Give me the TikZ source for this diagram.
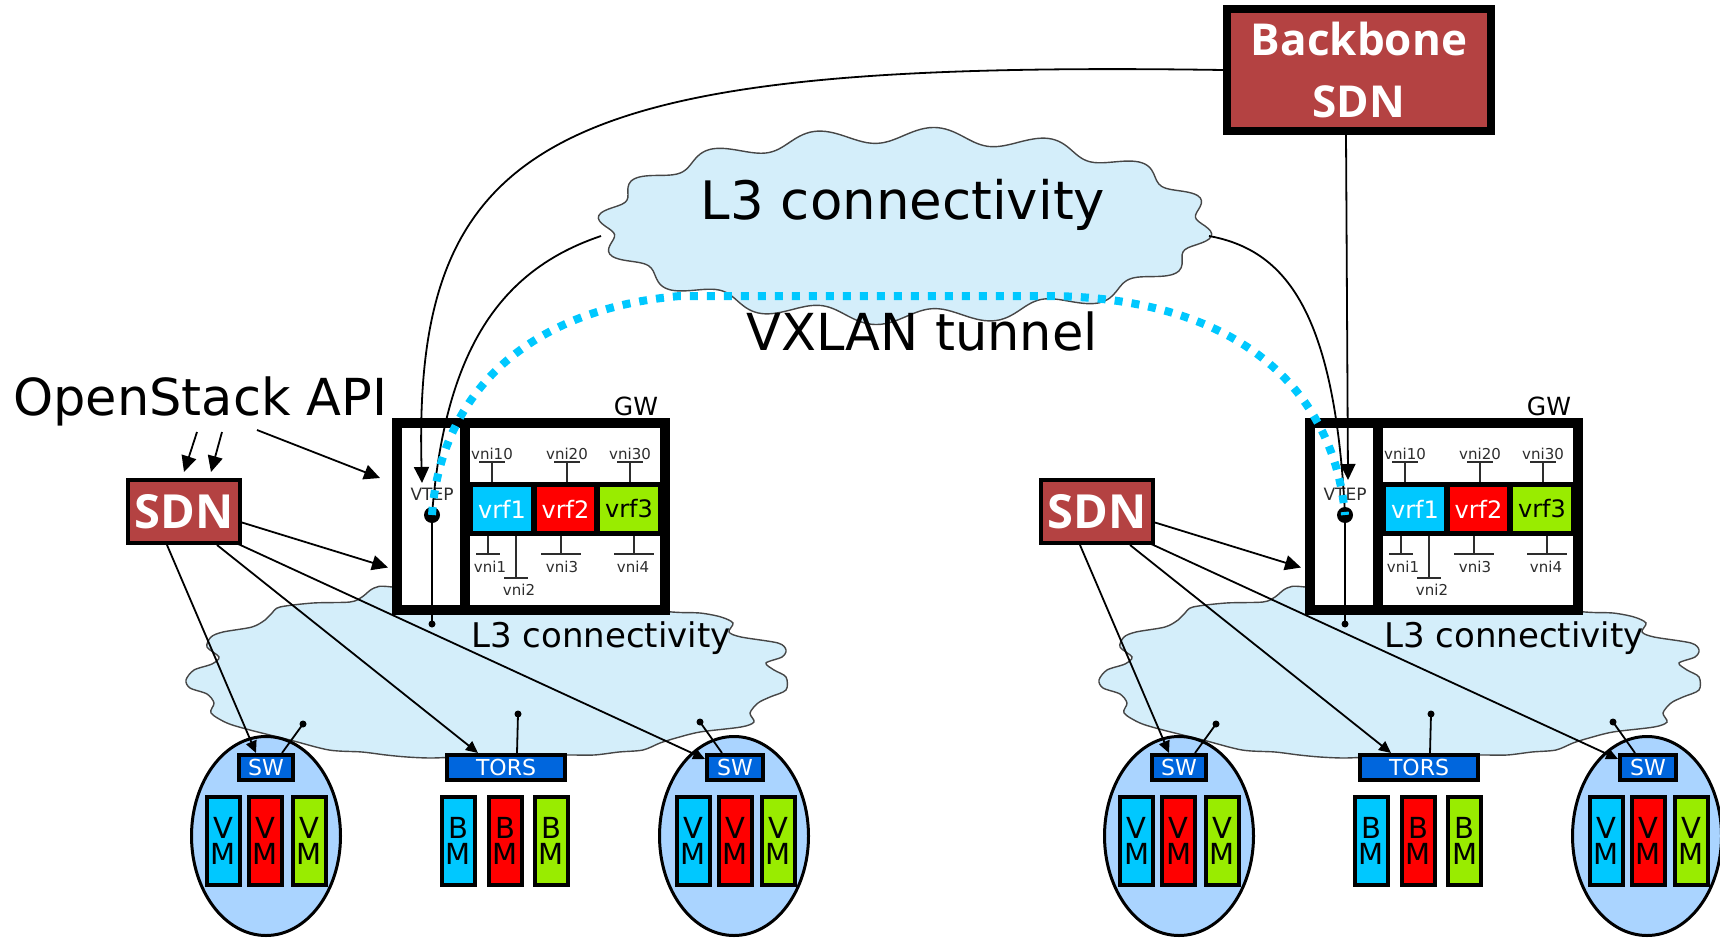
\documentclass[tikz,border=0pt]{standalone}
\usepackage{fontspec}
\setmainfont{DejaVu Sans}
\newfontfamily\headfont{Open Sans}
\usetikzlibrary{arrows.meta,shapes.geometric}

\definecolor{cloudfill}{RGB}{212,238,250}
\definecolor{cloudedge}{RGB}{70,70,70}
\definecolor{sdnred}{RGB}{180,66,66}
\definecolor{netcyan}{RGB}{0,200,255}
\definecolor{netred}{RGB}{255,0,0}
\definecolor{netgreen}{RGB}{153,236,0}
\definecolor{switchblue}{RGB}{0,102,221}
\definecolor{hostfill}{RGB}{170,212,255}
\definecolor{labelgray}{RGB}{45,45,45}

\newcommand{\setfs}[2]{\fontsize{#1}{#2}\selectfont}

\begin{document}
\begin{tikzpicture}[x=1pt,y=-1pt,
  wire/.style={line width=1.8pt},
  bigtip/.style={wire,-{Triangle[length=16pt,width=15pt]}},
  smalltip/.style={wire,-{Triangle[length=12pt,width=11pt]}},
  cloudshape/.style={fill=cloudfill,draw=cloudedge,line width=1.4pt},
  ctrlbox/.style={draw=black,line width=4pt,fill=sdnred,text=white,inner sep=0pt,
    font={\headfont\bfseries\setfs{47}{56}}},
  gwframe/.style={draw=black,line width=10pt,fill=white,inner sep=0pt,
    minimum width=268pt,minimum height=187pt},
  vrfbox/.style={inner sep=0pt,minimum width=58pt,minimum height=44pt,
    font=\setfs{24}{28}},
  vnilab/.style={inner sep=0pt,text=labelgray,font=\setfs{15}{17}},
  stub/.style={line width=1.6pt,draw=labelgray},
  hostshape/.style={ellipse,draw=black,line width=3pt,fill=hostfill,inner sep=0pt,
    minimum width=149pt,minimum height=199pt},
  swbox/.style={draw=black,line width=4pt,fill=switchblue,text=white,inner sep=0pt,
    minimum height=25pt,font=\setfs{22}{26}},
  guest/.style={draw=black,line width=4pt,inner sep=0pt,minimum width=33pt,
    minimum height=88pt,align=center,font=\setfs{29}{26}},
  bigdot/.style={circle,fill=black,inner sep=0pt,minimum size=16pt},
  linkdot/.style={circle,fill=black,inner sep=0pt,minimum size=7pt},
]
\useasboundingbox (0,0) rectangle (1720,939);

% backbone L3 cloud
\filldraw[cloudshape] plot[domain=0:358.5,samples=240,smooth cycle,variable=\t]
  ({905+(300+8*sin(16*\t))*cos(\t)},{226+(91+8*sin(16*\t))*sin(\t)});
\coordinate (cloudW) at (601,236);
\coordinate (cloudE) at (1209,236);

% backbone controller
\node[ctrlbox,line width=8pt,minimum width=264pt,minimum height=122pt,align=center,
  font={\headfont\bfseries\setfs{44}{62}}] (bb) at (1359,70) {Backbone\\SDN};

% two identical data-centre sites
\foreach \dx/\sd in {0/L,913/R}{
\begin{scope}[shift={(\dx,0)}]
  % site L3 fabric
  \filldraw[cloudshape] plot[smooth cycle] coordinates {
    (480,600) (392,587) (374,588) (362,597) (350,602) (313,603) (280,607)
    (272,613) (265,620) (252,627) (223,632) (211,637) (207,647) (219,657)
    (212,664) (194,670) (186,680) (190,688) (207,694) (214,703) (211,713)
    (227,723) (250,730) (290,740) (329,750) (362,752) (386,755) (407,757)
    (431,758) (460,757) (520,756) (566,755) (594,755) (619,752) (643,750)
    (660,743) (676,738) (700,732) (741,727) (754,722) (750,713) (758,703)
    (770,697) (786,690) (786,677) (774,670) (766,663) (782,657) (786,650)
    (778,643) (741,637) (729,632) (733,623) (721,617) (700,613) (672,612)
    (600,605)};
  \node[anchor=base,inner sep=0pt,font=\setfs{34}{40}] (l3\sd) at (601,647) {L3 connectivity};

  % compute hosts and bare-metal rack
  \node[hostshape] (hostA\sd) at (266,836) {};
  \node[hostshape] (hostB\sd) at (734,836) {};
  \node[swbox,minimum width=54pt] (swA\sd) at (266,767.5) {SW};
  \node[swbox,minimum width=56pt] (swB\sd) at (735,767.5) {SW};
  \node[swbox,minimum width=118pt] (tors\sd) at (506,767.5) {TORS};

  \node[guest,fill=netcyan] (vmA1\sd) at (223.5,841) {V\\M};
  \node[guest,fill=netred] (vmA2\sd) at (265.5,841) {V\\M};
  \node[guest,fill=netgreen] (vmA3\sd) at (309,841) {V\\M};
  \node[guest,fill=netcyan] (vmB1\sd) at (693,841) {V\\M};
  \node[guest,fill=netred] (vmB2\sd) at (735,841) {V\\M};
  \node[guest,fill=netgreen] (vmB3\sd) at (778,841) {V\\M};
  \node[guest,fill=netcyan] (bm1\sd) at (458,841) {B\\M};
  \node[guest,fill=netred] (bm2\sd) at (505,841) {B\\M};
  \node[guest,fill=netgreen] (bm3\sd) at (551.5,841) {B\\M};

  % uplinks into the fabric
  \node[linkdot] (antA\sd) at (303,724) {};
  \node[linkdot] (antT\sd) at (518,714) {};
  \node[linkdot] (antB\sd) at (700,722) {};
  \draw[wire] ([xshift=16pt]swA\sd.north) -- (antA\sd.center);
  \draw[wire] ([xshift=11pt]tors\sd.north) -- (antT\sd.center);
  \draw[wire] ([xshift=-13pt]swB\sd.north) -- (antB\sd.center);

  % gateway
  \node[gwframe] (gw\sd) at (531,516.5) {};
  \draw[line width=10pt] (465,423) -- (465,610);
  \fill (470,482) rectangle (660,536);
  \node[vrfbox,fill=netcyan,text=white] (vrfa\sd) at (502,509) {vrf1};
  \node[vrfbox,fill=netred,text=white,minimum width=57pt] (vrfb\sd) at (565.5,509) {vrf2};
  \node[vrfbox,fill=netgreen,text=black] (vrfc\sd) at (629,509) {vrf3};
  \node[anchor=base,inner sep=0pt,font=\setfs{25}{30}] (gwname\sd) at (636,415) {GW};

  \foreach \vx/\vt in {492/vni10,567/vni20,630/vni30}{
    \node[vnilab] (\vt\sd) at (\vx,454) {\vt};
    \draw[stub] (\vx,482) -- (\vx,462) (\vx-13,462) -- (\vx+13,462);
  }
  \foreach \vx/\by/\bw/\lx/\ly/\vt in
    {488/554/12/490/567/vni1, 516/578/12/519/590/vni2,
     561/554/20/562/567/vni3, 634/554/20/633/567/vni4}{
    \draw[stub] (\vx,536) -- (\vx,\by) (\vx-\bw,\by) -- (\vx+\bw,\by);
    \node[vnilab] (\vt\sd) at (\lx,\ly) {\vt};
  }

  % VTEP
  \node[anchor=base,inner sep=0pt,text=labelgray,font=\setfs{17}{20}] (veplab\sd) at (432,500) {VTEP};
  \node[linkdot] (uplink\sd) at (432,624) {};
  \node[bigdot] (vtep\sd) at (432,515) {};
  \draw[wire] (vtep\sd.center) -- (uplink\sd.center);

  % site controller
  \node[ctrlbox,minimum width=112pt,minimum height=63pt] (sdn\sd) at (184,511.5) {SDN};
  \draw[smalltip] ([xshift=-17pt]sdn\sd.south) -- ([xshift=-10pt]swA\sd.north);
  \draw[smalltip] ([xshift=33pt]sdn\sd.south) -- ([xshift=-28pt]tors\sd.north);
  \draw[smalltip] ([xshift=-6pt,yshift=2pt]sdn\sd.south east) -- ([yshift=-6pt]swB\sd.north west);
  \draw[bigtip] ([yshift=-11pt]sdn\sd.east) -- ([xshift=-4pt,yshift=-51pt]gw\sd.west);
\end{scope}
}

% backbone control and links
\draw[bigtip] (bb.west) .. controls (560,60) and (412,130) .. ([xshift=-10pt,yshift=32pt]vtepL.center);
\draw[bigtip] ([xshift=-13pt]bb.south) -- ([xshift=3pt,yshift=35pt]vtepR.center);
\draw[wire] (cloudW) .. controls (500,270) and (445,350) .. (vtepL.center);
\draw[wire] (cloudE) .. controls (1285,250) and (1335,310) .. (vtepR.center);

% overlay tunnel
\draw[netcyan,line width=8pt,dash pattern=on 8pt off 9pt]
  (vtepL.center) .. controls (440,400) and (520,310) .. (680,296) -- (1050,296)
  .. controls (1250,298) and (1335,400) .. (vtepR.center);

\node[anchor=base,inner sep=0pt,font=\setfs{53}{60}] (l3top) at (903,219) {L3 connectivity};
\node[anchor=base,inner sep=0pt,font=\setfs{51}{60}] (vxlan) at (922,350) {VXLAN tunnel};

% tenant API
\node[anchor=base west,inner sep=0pt,font=\setfs{51}{58}] (osapi) at (13,415) {OpenStack API};
\coordinate (apiA) at (197,432);
\coordinate (apiB) at (222,432);
\coordinate (apiC) at (257,430);
\draw[bigtip] (apiA) -- ([yshift=6pt]sdnL.north);
\draw[bigtip] (apiB) -- ([xshift=27pt,yshift=6pt]sdnL.north);
\draw[bigtip] (apiC) -- ([xshift=-12pt,yshift=-60pt]gwL.north west);
\end{tikzpicture}
\end{document}
